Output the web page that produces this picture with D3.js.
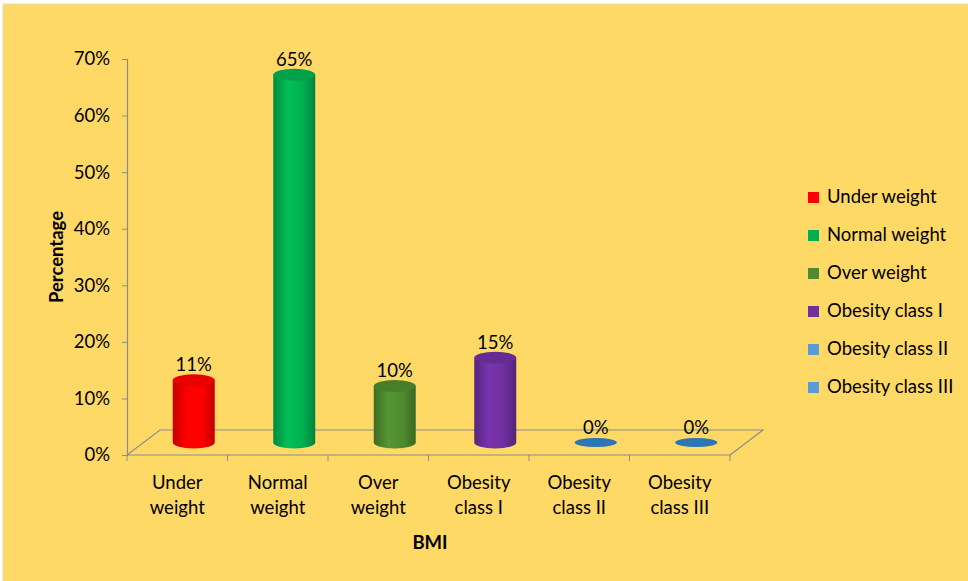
<!DOCTYPE html>
<html>
<head>
<meta charset="utf-8">
<script src="https://cdn.jsdelivr.net/npm/d3@7"></script>
<style>
  html, body { margin: 0; padding: 0; background: #fff; }
  svg { display: block; font-family: Lato, "Open Sans", sans-serif; }
</style>
</head>
<body>
<div id="chart"></div>
<script>
const categories = ["Under weight", "Normal weight", "Over weight", "Obesity class I", "Obesity class II", "Obesity class III"];
const values = [0.11, 0.65, 0.10, 0.15, 0, 0];
const barColors = ["#ff0000", "#00b050", "#4e8a2e", "#7030a0", "#2e75b6", "#2e75b6"];
const legendColors = ["#ff0000", "#00b050", "#4e8a2e", "#7030a0", "#5b9bd5", "#5b9bd5"];
const yTicks = [0, 0.1, 0.2, 0.3, 0.4, 0.5, 0.6, 0.7];

const width = 968, height = 581;
const depth = { dx: 33, dy: -25 };
const gridColor = "#8c8c8c";
const fontSize = "18.5px";

const svg = d3.select("#chart").append("svg")
  .attr("width", width).attr("height", height);

svg.append("rect")
  .attr("x", 3).attr("y", 4).attr("width", width).attr("height", height)
  .attr("fill", "#ffd966").attr("stroke", "#e6dcb4").attr("stroke-width", 1);

const x = d3.scaleBand().domain(categories).range([127, 730]);
const y = d3.scaleLinear().domain([0, 0.7]).range([455, 59]);

// floor
const x0 = x.range()[0], x1 = x.range()[1], yb = y(0);
svg.append("path")
  .attr("d", `M${x0},${yb} L${x0 + depth.dx},${yb + depth.dy} L${x1 + depth.dx},${yb + depth.dy} L${x1},${yb}`)
  .attr("fill", "none").attr("stroke", gridColor).attr("stroke-width", 1.2);

// y axis
const yAxis = svg.append("g")
  .attr("transform", `translate(${x0},0)`)
  .call(d3.axisLeft(y).tickValues(yTicks).tickFormat(d3.format(".0%")).tickSize(5).tickPadding(12));
yAxis.select(".domain").attr("stroke", gridColor).attr("stroke-width", 1.2);
yAxis.selectAll(".tick line").attr("stroke", gridColor);
yAxis.selectAll(".tick text").attr("fill", "#000").style("font-size", fontSize).style("font-family", "Lato, sans-serif");

// x axis line and boundary ticks
svg.append("line")
  .attr("x1", x0).attr("x2", x1).attr("y1", yb).attr("y2", yb)
  .attr("stroke", gridColor).attr("stroke-width", 1.2);
svg.selectAll(".xtick")
  .data(categories.map((c) => x(c)).concat([x1]))
  .join("line")
  .attr("class", "xtick")
  .attr("x1", (d) => d).attr("x2", (d) => d)
  .attr("y1", yb).attr("y2", yb + 6)
  .attr("stroke", gridColor);

const labels = svg.selectAll(".xlabel").data(categories).join("text")
  .attr("class", "xlabel")
  .attr("x", (d) => x(d) + x.bandwidth() / 2)
  .attr("y", 489)
  .attr("text-anchor", "middle")
  .style("font-size", fontSize);
labels.each(function (d) {
  const i = d.indexOf(" ");
  const parts = [d.slice(0, i), d.slice(i + 1)];
  d3.select(this).selectAll("tspan").data(parts).join("tspan")
    .attr("x", x(d) + x.bandwidth() / 2)
    .attr("dy", (p, k) => (k === 0 ? 0 : 25))
    .text((p) => p);
});

// cylinders
const defs = svg.append("defs");
const rx = 21, ry = 6;
const data = categories.map((c, i) => ({ c, v: values[i], color: barColors[i], i }));

data.forEach((d) => {
  const g = defs.append("linearGradient").attr("id", "grad" + d.i)
    .attr("x1", 0).attr("x2", 1).attr("y1", 0).attr("y2", 0);
  const base = d3.color(d.color);
  g.append("stop").attr("offset", "0%").attr("stop-color", base.darker(0.7));
  g.append("stop").attr("offset", "35%").attr("stop-color", base.brighter(0.25));
  g.append("stop").attr("offset", "70%").attr("stop-color", base);
  g.append("stop").attr("offset", "100%").attr("stop-color", base.darker(0.8));
});

const bars = svg.selectAll(".bar").data(data).join("g").attr("class", "bar");
bars.each(function (d) {
  const g = d3.select(this);
  const cx = x(d.c) + x.bandwidth() / 2 + depth.dx / 2;
  const yBottom = y(0) + depth.dy / 2;
  const yTop = y(d.v) + depth.dy / 2;
  if (d.v > 0) {
    g.append("path")
      .attr("d", `M${cx - rx},${yTop} L${cx - rx},${yBottom} A${rx},${ry} 0 0 0 ${cx + rx},${yBottom} L${cx + rx},${yTop} Z`)
      .attr("fill", `url(#grad${d.i})`);
    g.append("ellipse")
      .attr("cx", cx).attr("cy", yTop).attr("rx", rx).attr("ry", ry)
      .attr("fill", d3.color(d.color).darker(0.25));
  } else {
    g.append("ellipse")
      .attr("cx", cx).attr("cy", yBottom).attr("rx", rx).attr("ry", ry * 0.75)
      .attr("fill", d.color);
  }
  g.append("text")
    .attr("x", cx)
    .attr("y", yTop - ry - 3)
    .attr("text-anchor", "middle")
    .style("font-size", fontSize)
    .text(d3.format(".0%")(d.v));
});

// axis titles
svg.append("text")
  .attr("transform", `translate(63,257) rotate(-90)`)
  .attr("text-anchor", "middle")
  .style("font-size", fontSize).style("font-weight", "bold")
  .text("Percentage");
svg.append("text")
  .attr("x", 430).attr("y", 549)
  .attr("text-anchor", "middle")
  .style("font-size", fontSize).style("font-weight", "bold")
  .text("BMI");

// legend
const legend = svg.selectAll(".legend").data(categories).join("g")
  .attr("class", "legend")
  .attr("transform", (d, i) => `translate(808,${197 + i * 38})`);
legend.append("rect")
  .attr("x", 0).attr("y", -5).attr("width", 11).attr("height", 11)
  .attr("fill", (d, i) => legendColors[i]);
legend.append("text")
  .attr("x", 19).attr("y", 6)
  .style("font-size", fontSize)
  .text((d) => d);
</script>
</body>
</html>
